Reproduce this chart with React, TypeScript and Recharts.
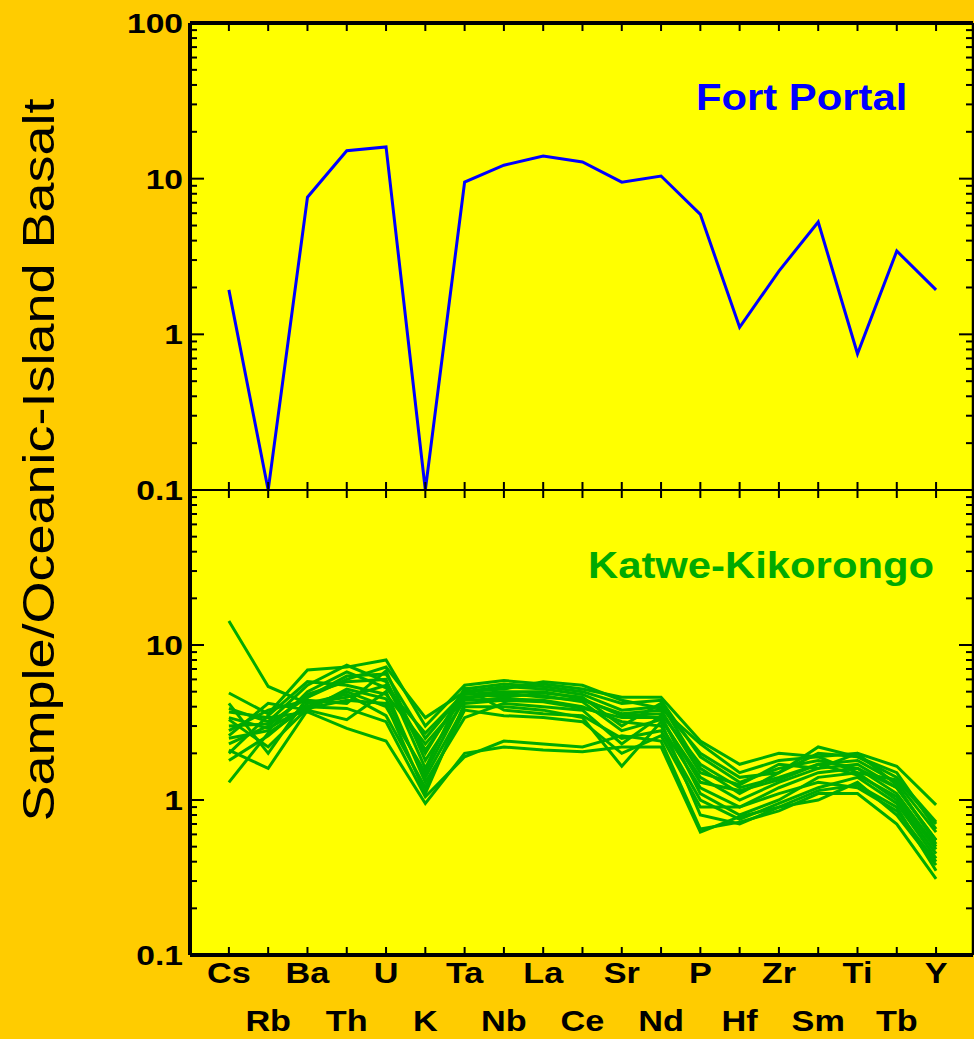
import React from 'react';
import { LineChart, Line, XAxis, YAxis } from 'recharts';

const ELEMENTS = ['Cs', 'Rb', 'Ba', 'Th', 'U', 'K', 'Ta', 'Nb', 'La', 'Ce', 'Sr', 'Nd', 'P', 'Hf', 'Zr', 'Sm', 'Ti', 'Tb', 'Y'];
const IDX = ELEMENTS.map((_, i) => i);

const FORT_PORTAL = [1.93, 0.1, 7.6, 15.1, 16, 0.1, 9.5, 12.2, 14, 12.8, 9.5, 10.4, 5.9, 1.11, 2.55, 5.27, 0.75, 3.43, 1.93];

// Katwe-Kikorongo samples, same element order
const KK_01 = [14.3, 5.4, 4.2, 4.6, 5.5, 2.0, 5.2, 5.6, 5.4, 5.0, 4.2, 4.4, 1.9, 1.3, 1.6, 1.8, 1.6, 1.2, 0.55];
const KK_02 = [4.9, 3.6, 6.9, 7.2, 8.0, 3.0, 5.5, 5.9, 5.6, 5.2, 4.6, 4.6, 2.4, 1.7, 2.0, 1.9, 2.0, 1.65, 0.93];
const KK_03 = [4.2, 2.0, 4.6, 6.3, 6.5, 2.5, 5.0, 5.4, 5.2, 4.8, 3.8, 4.0, 2.0, 1.4, 1.5, 2.2, 1.9, 1.4, 0.72];
const KK_04 = [3.9, 3.2, 5.5, 7.4, 5.8, 2.1, 4.8, 5.0, 5.0, 4.5, 3.5, 3.6, 1.7, 1.2, 1.4, 1.7, 1.8, 1.3, 0.62];
const KK_05 = [3.4, 2.9, 4.0, 5.0, 4.0, 1.5, 4.6, 4.8, 4.7, 4.3, 2.8, 3.3, 1.4, 1.0, 1.3, 1.6, 1.7, 1.2, 0.55];
const KK_06 = [2.8, 3.8, 4.4, 4.2, 6.8, 1.8, 4.4, 4.5, 4.4, 4.0, 3.2, 3.0, 1.2, 0.9, 1.2, 1.5, 1.6, 1.1, 0.5];
const KK_07 = [2.6, 4.2, 3.8, 3.3, 5.0, 1.3, 3.4, 4.2, 4.0, 3.8, 2.3, 3.5, 1.1, 0.8, 1.0, 1.4, 1.5, 1.0, 0.45];
const KK_08 = [2.3, 3.0, 4.8, 5.8, 6.0, 1.6, 5.3, 3.8, 3.6, 3.5, 2.5, 2.8, 1.0, 0.75, 0.95, 1.2, 1.4, 0.95, 0.42];
const KK_09 = [2.1, 1.6, 3.8, 5.2, 4.5, 1.4, 4.0, 4.0, 3.8, 3.4, 1.65, 3.2, 0.8, 0.7, 0.9, 1.0, 1.3, 0.8, 0.38];
const KK_10 = [1.8, 2.6, 4.2, 4.8, 3.5, 1.2, 3.8, 3.5, 3.4, 3.2, 2.0, 2.6, 0.9, 0.9, 1.1, 1.3, 1.2, 0.85, 0.4];
const KK_11 = [1.3, 2.7, 4.0, 3.9, 3.2, 1.05, 1.9, 2.4, 2.3, 2.2, 2.6, 2.4, 0.65, 0.72, 0.85, 1.1, 1.1, 0.7, 0.31];
const KK_12 = [3.7, 3.4, 3.7, 2.9, 2.4, 0.95, 2.0, 2.2, 2.1, 2.05, 2.2, 2.2, 0.62, 0.78, 0.9, 1.15, 1.25, 0.9, 0.35];
const KK_13 = [3.0, 3.1, 4.6, 6.0, 7.2, 3.4, 5.0, 5.2, 5.8, 5.5, 4.4, 3.9, 2.3, 1.5, 1.8, 1.9, 1.5, 1.35, 0.7];
const KK_14 = [2.5, 2.8, 5.0, 6.7, 5.3, 2.7, 4.9, 4.6, 4.9, 4.6, 3.0, 4.2, 1.6, 1.1, 1.5, 2.0, 1.9, 1.5, 0.65];
const KK_15 = [3.3, 2.2, 3.9, 4.4, 4.2, 1.1, 4.2, 4.4, 4.3, 3.9, 3.4, 3.4, 1.3, 1.15, 1.35, 1.7, 1.45, 1.05, 0.48];
const KK_16 = [2.0, 3.5, 5.8, 5.5, 4.8, 2.3, 4.5, 4.9, 4.6, 4.4, 3.6, 3.8, 1.5, 1.25, 1.7, 1.6, 2.0, 1.25, 0.52];
const KATWE = [KK_01, KK_02, KK_03, KK_04, KK_05, KK_06, KK_07, KK_08, KK_09, KK_10, KK_11, KK_12, KK_13, KK_14, KK_15, KK_16];

const Y_TICKS = [
  0.1, 0.2, 0.3, 0.4, 0.5, 0.6, 0.7, 0.8, 0.9,
  1, 2, 3, 4, 5, 6, 7, 8, 9,
  10, 20, 30, 40, 50, 60, 70, 80, 90,
  100,
];
const DECADES = [0.1, 1, 10, 100];

const ORANGE = '#FFCC00';
const YELLOW = '#FFFF00';
const BLUE = '#0000FF';
const GREEN = '#00AA00';
const FONT = '"Liberation Sans", Arial, Helvetica, sans-serif';

const X_DOMAIN: [number, number] = [-0.99, 18.94];

const topRows = ELEMENTS.map((el, i) => ({ i, el, fp: FORT_PORTAL[i] }));
const bottomRows = ELEMENTS.map((el, i) => {
  const row: any = { i, el };
  KATWE.forEach((s, k) => { row['k' + k] = s[i]; });
  return row;
});

const isDecade = (v: number) => DECADES.some(d => Math.abs(d - v) < 1e-9);
const fmt = (v: number) => (v < 1 ? v.toFixed(1) : String(Math.round(v)));

const yTick = (side: 'left' | 'right', showTop: boolean) => (props: any) => {
  const { x, y, payload } = props;
  const v = payload.value;
  const major = isDecade(v);
  const len = major ? 14 : 7;
  const dir = side === 'left' ? 1 : -1;
  const label = side === 'left' && major && (showTop || v < 50);
  return (
    <g>
      <line x1={x} y1={y} x2={x + dir * len} y2={y} stroke="#000" strokeWidth={2} />
      {label && (
        <text transform={`translate(${x - 7},${y + 10}) scale(1.2,1)`} textAnchor="end"
          fontSize={28} fontWeight="bold" fontFamily={FONT} fill="#000">{fmt(v)}</text>
      )}
    </g>
  );
};

const xTick = (pos: 'top' | 'bottom', labels: boolean) => (props: any) => {
  const { x, y, payload } = props;
  const i = Math.round(payload.value);
  const dir = pos === 'top' ? 1 : -1;
  return (
    <g>
      <line x1={x} y1={y} x2={x} y2={y + dir * 8} stroke="#000" strokeWidth={2} />
      {labels && (
        <text transform={`translate(${x},${y + (i % 2 === 0 ? 28 : 76)}) scale(1.18,1)`} textAnchor="middle"
          fontSize={29} fontWeight="bold" fontFamily={FONT} fill="#000">{ELEMENTS[i]}</text>
      )}
    </g>
  );
};

const axisCommon = { tickSize: 0, tickMargin: 0, tickLine: false, interval: 0 as const, allowDataOverflow: true };

function Panel({ rows, height, topH, bottomH, topStroke, bottomStroke, showTop, labels, children }: any) {
  return (
    <LineChart width={974} height={height} data={rows} margin={{ top: 0, right: 0, bottom: 0, left: 0 }}
      style={{ overflow: 'visible' }}>
      <XAxis xAxisId="b" dataKey="i" type="number" domain={X_DOMAIN} ticks={IDX} height={bottomH}
        axisLine={{ stroke: '#000', strokeWidth: bottomStroke }} tick={xTick('bottom', labels)} {...axisCommon} />
      <XAxis xAxisId="t" orientation="top" dataKey="i" type="number" domain={X_DOMAIN} ticks={IDX} height={topH}
        axisLine={{ stroke: '#000', strokeWidth: topStroke }} tick={xTick('top', false)} {...axisCommon} />
      <YAxis yAxisId="l" type="number" scale="log" domain={[0.1, 100]} ticks={Y_TICKS} width={190}
        axisLine={{ stroke: '#000', strokeWidth: 4 }} tick={yTick('left', showTop)} {...axisCommon} />
      <YAxis yAxisId="r" orientation="right" type="number" scale="log" domain={[0.1, 100]} ticks={Y_TICKS} width={1}
        axisLine={{ stroke: '#000', strokeWidth: 2.5 }} tick={yTick('right', false)} {...axisCommon} />
      {children}
    </LineChart>
  );
}

export default function App() {
  return (
    <div style={{ position: 'absolute', left: 0, top: 0, width: 974, height: 1039, background: ORANGE, overflow: 'hidden' }}>
      <div style={{ position: 'absolute', left: 190, top: 23, width: 783, height: 932, background: YELLOW }} />
      <div style={{ position: 'absolute', left: 0, top: 0 }}>
        <Panel rows={topRows} height={520} topH={23} bottomH={30} topStroke={4} bottomStroke={2} showTop={true} labels={false}>
          <Line xAxisId="b" yAxisId="l" dataKey="fp" type="linear" stroke={BLUE} strokeWidth={3}
            dot={false} isAnimationActive={false} />
        </Panel>
      </div>
      <div style={{ position: 'absolute', left: 0, top: 480 }}>
        <Panel rows={bottomRows} height={559} topH={10} bottomH={84} topStroke={2} bottomStroke={4} showTop={false} labels={true}>
          {KATWE.map((_, k) => (
            <Line key={k} xAxisId="b" yAxisId="l" dataKey={'k' + k} type="linear" stroke={GREEN} strokeWidth={3}
              dot={false} isAnimationActive={false} />
          ))}
        </Panel>
      </div>
      <svg width={974} height={1039} style={{ position: 'absolute', left: 0, top: 0, pointerEvents: 'none' }}>
        <text transform="translate(39,460) rotate(-90) scale(1.2,1)" textAnchor="middle" dominantBaseline="central"
          fontSize={45} fontFamily={FONT} fill="#000">Sample/Oceanic-Island Basalt</text>
        <text transform="translate(696,110) scale(1.13,1)" fontSize={37} fontWeight="bold" fontFamily={FONT} fill={BLUE}>Fort Portal</text>
        <text transform="translate(588,578) scale(1.13,1)" fontSize={37} fontWeight="bold" fontFamily={FONT} fill={GREEN}>Katwe-Kikorongo</text>
      </svg>
    </div>
  );
}
